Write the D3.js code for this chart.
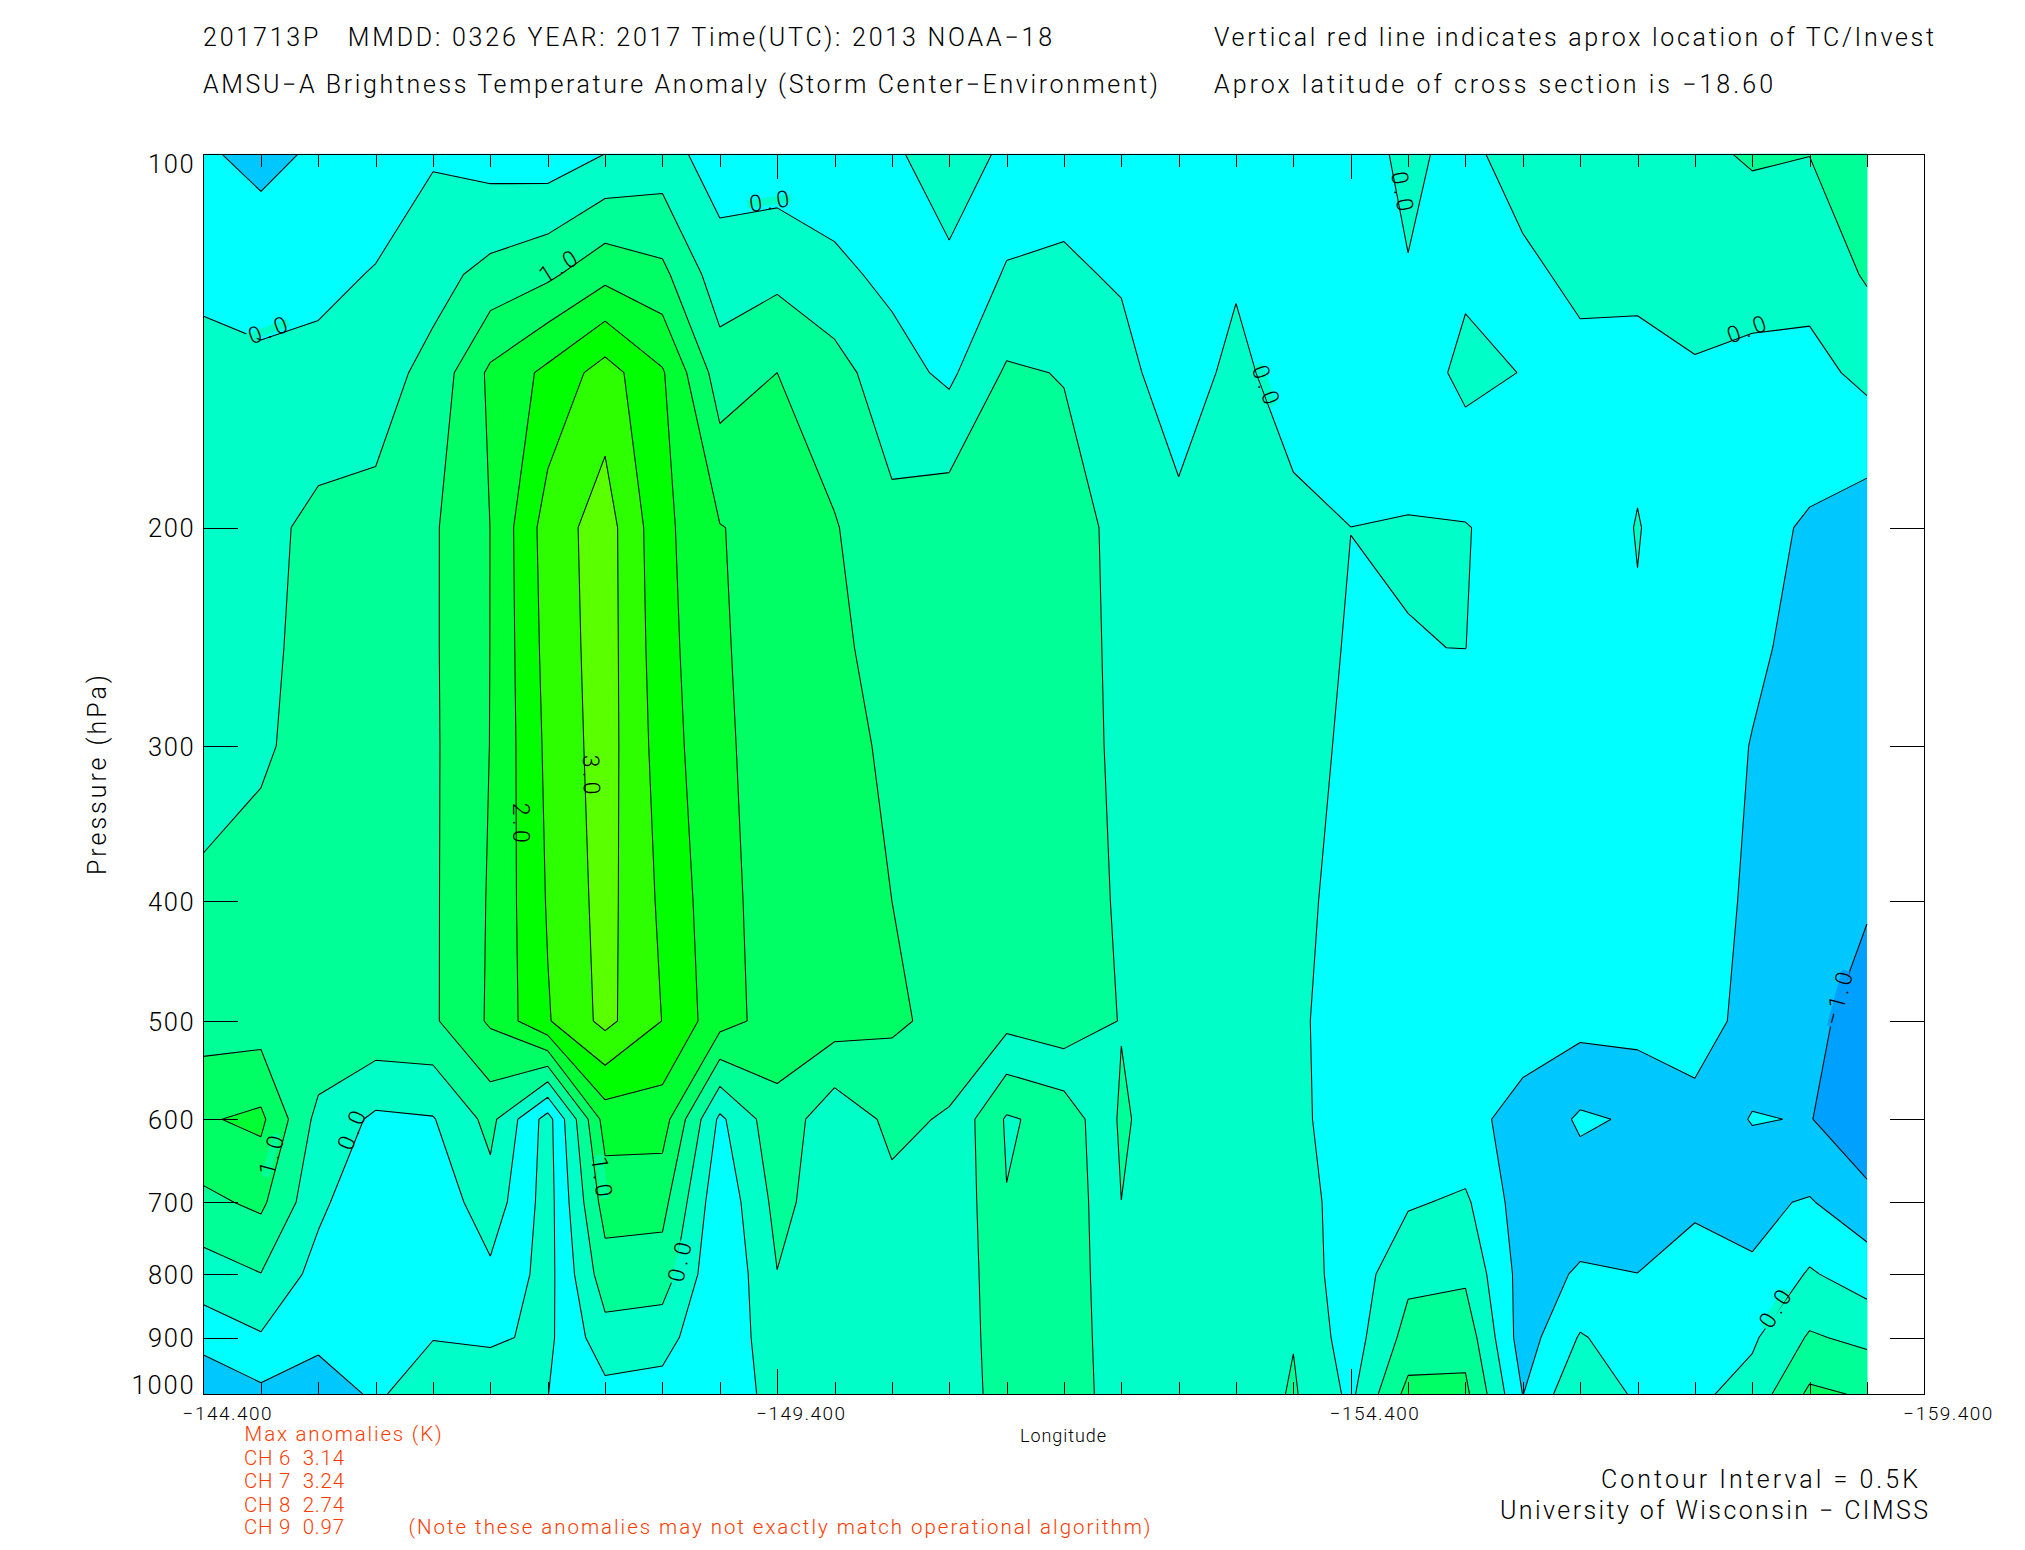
<!DOCTYPE html>
<html><head><meta charset="utf-8">
<style>html,body{margin:0;padding:0;background:#fff}svg{display:block}text{font-family:Roboto,"Open Sans",sans-serif;font-weight:300}</style>
<script src="https://cdn.jsdelivr.net/npm/d3@7"></script>
</head><body><svg id="c" width="2025" height="1550"></svg>
<script>
const lons=[-144.4,-144.9,-145.4,-145.9,-146.4,-146.9,-147.4,-147.9,-148.4,-148.9,-149.4,-149.9,-150.4,-150.9,-151.4,-151.9,-152.4,-152.9,-153.4,-153.9,-154.4,-154.9,-155.4,-155.9,-156.4,-156.9,-157.4,-157.9,-158.4,-158.9];
const pressures=[100,125,150,200,250,300,400,500,600,700,800,900,1000];
const v100=[-.44,-.625,-.43,-.3,-.056,-.21,-.29,.005,.2,-.244,-.3,-.3,-.02,.065,-.023,-.3,-.3,-.3,-.3,-.3,-.195,.096,-.15,.27,.35,.49,.42,.54,.506,.8];
const v125=[-.113,-.22,-.12,.03,.33,.65,.9,1.35,1.12,.216,.373,.113,-.115,-.026,.003,.113,-.08,-.35,-.1,-.3,-.3,-.021,-.40,-.14,.15,.15,.22,.25,.19,.55];
const v150=[.152,.11,.136,.3,.648,1.6,2.12,2.72,2.05,.746,1.0,.70,.19,-.1,.568,.476,.253,-.45,.24,-.45,-.45,-.166,-.65,-.483,-.183,-.207,-.05,-.167,-.171,.14];
const v200=[.25,.35,.635,.63,.938,1.504,2.73,3.24,2.14,1.52,1.32,1.034,.64,.83,.8,.72,.36,.22,.25,.25,.002,.015,.024,-.2,-.4,.03,-.4,-.37,-.55,-.8];
const v250=[.32,.38,.68,.68,.938,1.505,2.67,3.24,2.2,1.54,1.34,1.08,.85,.85,.82,.72,.387,.25,.25,.15,-.03,-.006,.003,-.25,-.3,-.06,-.35,-.45,-.59,-.82];
const v300=[.40,.42,.72,.72,.93,1.51,2.61,3.23,2.27,1.56,1.35,1.15,.92,.9,.85,.74,.397,.25,.25,.12,-.056,-.15,-.3,-.25,-.3,-.25,-.35,-.51,-.65,-.85];
const v400=[.545,.716,.85,.78,.93,1.55,2.54,3.18,2.4,1.65,1.28,1.14,1.0,.92,.87,.78,.434,.28,.25,.12,-.153,-.2,-.3,-.27,-.3,-.3,-.38,-.541,-.75,-.95];
const v500=[.747,.752,.984,.894,.93,1.57,2.46,3.14,2.49,1.7,1.28,1.226,1.08,.86,.655,.827,.476,.28,.25,.12,-.287,-.2,-.3,-.35,-.34,-.317,-.35,-.615,-.87,-1.21];
const v600=[1.45,1.607,.342,-.09,-.03,.65,-.71,1.72,1.736,-.1,.84,.155,.62,.447,-.555,-.335,.57,.18,.25,.12,-.24,-.15,-.408,-.61,-1.07,-.94,-.607,-1.034,-.97,-1.49];
const v700=[.8875,1.1,.12,-.45,-.35,.3,-.72,1.22,1.16,-.38,.65,.2,.375,.446,-.483,-.376,.498,.25,.25,.2,-.2,-.055,.08,-.76,-.737,-.8,-.62,-.58,-.465,-.81];
const v800=[.27,.49,-.19,-.4,-.45,-.1,-.68,.78,.774,-.48,.49,.25,.3,.4875,-.45,-.256,.3,.25,.25,.35,-.3,.382,.412,-.70,-.45,-.495,-.2,-.464,.052,-.25];
const v900=[-.29,-.05,-.42,-.4,-.489,-.42,-.61,.313,.2,-.48,.4,.28,.3,.489,-.4,-.294,.3,.25,.25,.478,-.25,.68,.81,-.75,.042,-.25,-.15,-.074,.555,.38];
const v1000=[-.97,-.616,-.68,-.45,-.7,-.875,-.505,-.154,-.2,-.45,.25,.3,.3,.475,-.33,-.338,.3,.25,.16,.555,-.105,1.16,1.117,-.51,.443,-.093,-.1,.186,1.1,.946];
const levels=[-1,-.5,0,.5,1,1.5,2,2.5,3];
const bandColors=["#00a0ff","#00c8ff","#00ffff","#00ffc8","#00ff96","#00ff64","#00ff32","#00ff00","#2dff00","#5aff00"];
// closed regions the original plot paints in another band's colour: [level, lon, pressure, colour]
const paintedOver=[[-.5,-147.4,800,"#00ffc8"],[-.5,-155.4,150,"#00ffc8"],[0,-151.4,800,"#00ff96"],[-.5,-151.4,600,"#00ffc8"],[-1,-156.4,600,"#00ffff"],[-1,-157.9,600,"#00ffff"]];
const labelText=["0.0","1.0","0.0","0.0","0.0","0.0","3.0","2.0","1.0","0.0","1.0","0.0","0.0","\u22121.0"];
const labelLon=[-144.96,-147.49,-149.33,-154.85,-153.66,-157.85,-147.78,-147.17,-144.99,-145.69,-147.87,-148.55,-158.1,-158.65];
const labelP=[138.6,123.2,109.1,107.1,153.4,138.4,316.4,346,641.8,612.4,667.5,782,853,479.5];
const labelAngle=[-20,-32,-8,80,70,-20,88,90,-75,-68,82,-77,-58,-75];
const labelGap=["#00ffc8","#00ff96","#00ffc8","#00ffc8","#00ffc8","#00ffc8","#5aff00","#00ff00","#00ff96","#00ffc8","#00ff96","#00ffc8","#00ffc8","#00a0ff"];
const pressureTicks=[100,200,300,400,500,600,700,800,900,1000];
const lonLabels=[-144.4,-149.4,-154.4,-159.4];
const maxAnomalies=["CH 6  3.14","CH 7  3.24","CH 8  2.74","CH 9  0.97"];

const rowsData=[v100,v125,v150,v200,v250,v300,v400,v500,v600,v700,v800,v900,v1000];
const svg=d3.select("#c");
const L=203.6,R=1924.3,T=154.3,B=1394.3;
const x=d3.scaleLinear().domain([-144.4,-159.4]).range([L,R]);
const y=d3.scaleLog().domain([100,1000]).range([T,B]);
const n=lons.length,m=pressures.length;
const flat=rowsData.flat();
const gridX=c=>{const i=Math.max(0,Math.min(n-1,c-.5));const a=Math.min(n-2,Math.floor(i));return x(lons[a])+(x(lons[a+1])-x(lons[a]))*(i-a);};
const gridY=c=>{const j=Math.max(0,Math.min(m-1,c-.5));const a=Math.min(m-2,Math.floor(j));return y(pressures[a])+(y(pressures[a+1])-y(pressures[a]))*(j-a);};
const proj=d3.geoTransform({point(a,b){this.stream.point(gridX(a),gridY(b));}});
const geo=d3.geoPath(proj);
const contourGen=d3.contours().size([n,m]).smooth(true);
const fields=contourGen.thresholds(levels)(flat);
const gFill=svg.append("g");
gFill.append("rect").attr("x",x(lons[0])).attr("y",T).attr("width",x(lons[n-1])-x(lons[0])).attr("height",B-T).attr("fill",bandColors[0]);
gFill.selectAll("path").data(fields).join("path").attr("d",geo).attr("fill",(d,i)=>bandColors[i+1]).attr("stroke",(d,i)=>bandColors[i+1]).attr("stroke-width",.4);
// painted-over closed regions
const neg=flat.map(v=>-v);
const gPaint=svg.append("g");
paintedOver.forEach(([lev,lon,p,col])=>{
  const cx=lons.indexOf(lon)+.5,cy=pressures.indexOf(p)+.5;
  const cs=d3.contours().size([n,m]).smooth(true).thresholds([-lev])(neg)[0];
  cs.coordinates.forEach(poly=>{
    if(d3.polygonContains(poly[0],[cx,cy])){
      gPaint.append("path").attr("d",geo({type:"MultiPolygon",coordinates:[poly]})).attr("fill",col);
    }
  });
});
// contour lines, without the parts that run along the edge of the data area
const onEdge=(a,b)=>(a[0]<=.5&&b[0]<=.5)||(a[0]>=n-.5&&b[0]>=n-.5)||(a[1]<=.5&&b[1]<=.5)||(a[1]>=m-.5&&b[1]>=m-.5);
const lp=d3.path();
fields.forEach(f=>f.coordinates.forEach(poly=>poly.forEach(ring=>{
  for(let i=1;i<ring.length;i++){
    const a=ring[i-1],b=ring[i];
    if(onEdge(a,b))continue;
    lp.moveTo(gridX(a[0]),gridY(a[1]));lp.lineTo(gridX(b[0]),gridY(b[1]));
  }
})));
svg.append("path").attr("d",lp.toString()).attr("fill","none").attr("stroke","#000").attr("stroke-width",1.05);
// contour labels
const gl=svg.append("g");
labelText.forEach((t,i)=>{
  const g=gl.append("g").attr("transform",`translate(${x(labelLon[i])},${y(labelP[i])}) rotate(${labelAngle[i]})`);
  const w=t.length>3?54:40;
  g.append("rect").attr("x",-w/2-2).attr("y",-4).attr("width",w+4).attr("height",8).attr("fill",labelGap[i]);
  g.append("text").attr("x",-w/2).attr("dy",8).attr("font-size",23).attr("fill","#000").attr("textLength",w).attr("lengthAdjust","spacing").text(t);
});
// frame and axes
const tickStyle=s=>{s.select(".domain").remove();s.selectAll("line").attr("stroke","#000").attr("stroke-width",1).attr("shape-rendering","crispEdges");s.selectAll("text").remove();};
const minor=lons.slice(1).filter(l=>l!==-149.4&&l!==-154.4);
svg.append("g").attr("transform",`translate(0,${B})`).call(d3.axisBottom(x).tickValues(minor).tickSize(-12.7)).call(tickStyle);
svg.append("g").attr("transform",`translate(0,${T})`).call(d3.axisTop(x).tickValues(minor).tickSize(-12.7)).call(tickStyle);
svg.append("g").attr("transform",`translate(0,${B})`).call(d3.axisBottom(x).tickValues([-149.4,-154.4]).tickSize(-25)).call(tickStyle);
svg.append("g").attr("transform",`translate(0,${T})`).call(d3.axisTop(x).tickValues([-149.4,-154.4]).tickSize(-25)).call(tickStyle);
const inner=pressureTicks.slice(1,-1);
svg.append("g").attr("transform",`translate(${L},0)`).call(d3.axisLeft(y).tickValues(inner).tickSize(-34)).call(tickStyle);
svg.append("g").attr("transform",`translate(${R},0)`).call(d3.axisRight(y).tickValues(inner).tickSize(-34)).call(tickStyle);
svg.append("rect").attr("x",L).attr("y",T).attr("width",R-L).attr("height",B-T).attr("fill","none").attr("stroke","#000").attr("stroke-width",1.4).attr("shape-rendering","crispEdges");
// tick labels
const yl=svg.append("g").attr("transform",`translate(${L},0)`).call(d3.axisLeft(y).tickValues(pressureTicks).tickSize(0).tickPadding(10).tickFormat(d3.format("d")));
yl.select(".domain").remove();
yl.selectAll("text").attr("font-size",25.5).attr("fill","#000").attr("font-family",null).attr("dy",d=>d===100?"0.71em":d===1000?"-0.04em":"0.36em").attr("textLength",d=>d===1000?62:45.5).attr("lengthAdjust","spacing");
const xl=svg.append("g").attr("transform",`translate(0,${B})`).call(d3.axisBottom(x).tickValues(lonLabels).tickSize(0).tickPadding(0).tickFormat(d=>"\u2212"+Math.abs(d).toFixed(3)));
xl.select(".domain").remove();
xl.selectAll("text").attr("font-size",19).attr("fill","#000").attr("font-family",null).attr("x",23).attr("y",26).attr("dy",0).attr("textLength",89).attr("lengthAdjust","spacing");
const txt=(t,px,py,size,len,col,rot)=>{const e=svg.append("text").attr("x",px).attr("y",py).attr("font-size",size).attr("fill",col||"#000").attr("xml:space","preserve").style("white-space","pre").text(t);if(len)e.attr("textLength",len).attr("lengthAdjust","spacing");if(rot)e.attr("transform",`rotate(${rot} ${px} ${py})`);return e;};
txt("201713P   MMDD: 0326 YEAR: 2017 Time(UTC): 2013 NOAA\u221218",203,46,25,849);
txt("AMSU\u2212A Brightness Temperature Anomaly (Storm Center\u2212Environment)",203,92.7,25,955);
txt("Vertical red line indicates aprox location of TC/Invest",1214,46,25,720);
txt("Aprox latitude of cross section is \u221218.60",1214,92.7,25,559);
txt("Pressure (hPa)",106,875,25,200,"#000",-90);
txt("Longitude",1020,1441.7,18,86);
const red="#ff3c00";
txt("Max anomalies (K)",244.6,1440.7,20.5,197,red);
maxAnomalies.forEach((t,i)=>txt(t,244,[1465,1488,1511.7,1534.3][i],20.5,100,red));
txt("(Note these anomalies may not exactly match operational algorithm)",408.5,1534.3,20.5,742,red);
txt("Contour Interval = 0.5K",1601,1487.7,25,317);
txt("University of Wisconsin \u2212 CIMSS",1500,1519,25,428);
</script></body></html>
